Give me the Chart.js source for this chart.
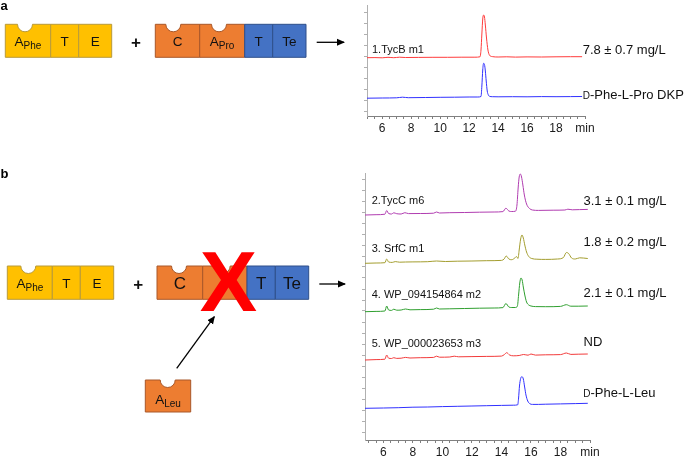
<!DOCTYPE html>
<html><head><meta charset="utf-8">
<script src="https://cdn.jsdelivr.net/npm/chart.js@4.4.1/dist/chart.umd.min.js"></script>
<style>
html,body{margin:0;padding:0;background:#fff;}
body{width:685px;height:458px;position:relative;overflow:hidden;font-family:'Liberation Sans',Arial,Helvetica,sans-serif;}
.box{position:absolute;}
#ov{position:absolute;left:0;top:0;}
</style></head><body>
<div class="box" style="left:340px;top:0;width:345px;height:140px"><canvas id="ca" width="345" height="140"></canvas></div>
<div class="box" style="left:340px;top:160px;width:345px;height:298px"><canvas id="cb" width="345" height="298"></canvas></div>
<svg id="ov" width="685" height="458" xmlns="http://www.w3.org/2000/svg"></svg>
<script>
// ---------- DATA ----------
// x tick values (min) and their labels
const xTickValues = [5,5.5,6,6.5,7,7.5,8,8.5,9,9.5,10,10.5,11,11.5,12,12.5,13,13.5,14,14.5,15,15.5,16,16.5,17,17.5,18,18.5,19,19.5,20];
const xTickLabels = {6:'6',8:'8',10:'10',12:'12',14:'14',16:'16',18:'18',20:'min'};
const yTicksA = [5,16,27,38,49,60,71,82,93,104];
const yTicksB = [8,19,30,41,52,63,74,85,96,107,118,129,140,151,162,173,184,195,206,217,228,239,250,261];

// Panel a traces (retention time in min, detector signal, offset-stacked)
const a1Time = [4.95,5.5,6.0,6.4,6.8,7.2,7.6,8.5,9.5,10.5,11.5,12.4,12.75,12.82,12.88,12.94,13.0,13.06,13.12,13.2,13.3,13.4,13.6,14.0,14.6,15.2,16.0,17.0,18.0,19.0,19.8];
const a1Signal = [58.3,58.4,58.2,58.7,58.3,58.8,58.5,58.6,58.7,58.7,58.8,58.8,59.2,66,82,97,101,99,91,78,66,61,59.4,59.0,59.2,58.9,59.1,59.0,59.2,59.3,59.3];
const aStdTime = [4.95,6.0,7.0,7.4,7.8,9.0,10.0,11.0,12.0,12.6,12.82,12.88,12.94,13.0,13.06,13.12,13.18,13.25,13.33,13.42,13.6,14.0,15.0,16.0,17.0,18.0,19.0,19.8];
const aStdSignal = [17.8,18.0,18.2,18.8,18.3,18.5,18.7,18.8,19.0,19.0,19.5,30,46,52.7,51.5,45,35,25,21,19.6,19.3,19.2,19.3,19.2,19.4,19.3,19.4,19.5];

// Panel b traces
const b2Time = [4.75,5.5,6.1,6.22,6.35,6.55,6.7,6.9,7.2,7.45,7.7,8.5,9.4,9.6,9.8,10.5,11.5,12.5,13.5,14.1,14.3,14.5,14.7,14.95,15.05,15.13,15.2,15.28,15.36,15.45,15.55,15.7,15.9,16.1,16.5,17.5,18.3,18.5,18.8,19.3,19.85];
const b2Signal = [225.0,225.3,225.8,229.5,226.5,226.0,227.2,226.3,226.0,227.3,226.4,226.5,226.8,228.0,227.0,227.3,227.5,227.8,228.0,228.4,231.8,229.0,228.5,228.8,235,252,263,266,263,255,245,236,231.5,230.0,229.6,229.8,230.0,230.8,230.2,230.4,230.6];
const b3Time = [4.75,5.5,6.1,6.22,6.35,6.6,6.8,7.1,7.5,8.0,9.0,9.6,10.2,11.0,12.0,13.0,14.0,14.18,14.32,14.5,14.7,14.9,15.02,15.12,15.2,15.3,15.39,15.48,15.58,15.7,15.85,16.05,16.4,17.0,17.8,18.2,18.4,18.55,18.75,19.0,19.3,19.85];
const b3Signal = [176.7,177.0,177.3,181.0,178.0,177.6,178.4,177.8,178.0,178.1,178.3,179.0,178.5,178.8,179.0,179.3,179.6,181,184,181,180.3,182,183.5,181.5,190,201,205,202,195,188,183.5,181.5,180.8,180.6,181,182.5,187.5,186.5,182,181.0,182.2,181.5];
const b4Time = [4.75,5.5,6.1,6.22,6.35,6.55,6.7,6.9,7.2,7.5,7.8,8.5,9.4,9.6,9.8,10.5,11.5,12.5,13.5,14.1,14.3,14.5,14.7,14.95,15.08,15.16,15.24,15.32,15.4,15.48,15.58,15.7,15.85,16.0,16.3,17.0,18.0,18.4,18.7,19.2,19.85];
const b4Signal = [128.3,128.6,129.0,134.0,130.0,129.6,130.8,129.8,130.0,131.0,130.2,130.4,130.8,132.0,131.0,131.2,131.5,131.8,132.0,132.4,136.5,133.0,132.5,132.5,134,145,157,162,160,153,145,138,135,134,133.4,133.3,133.6,135.3,133.8,133.8,134.0];
const b5Time = [4.75,5.5,6.1,6.22,6.35,6.55,6.7,6.9,7.2,7.5,7.8,8.5,9.4,9.6,9.8,10.5,10.8,11.1,12.0,13.0,14.0,14.2,14.35,14.55,14.8,15.2,15.5,15.8,16.0,16.3,17.0,18.0,18.4,18.7,19.2,19.85];
const b5Signal = [80.0,80.4,80.8,85.0,81.8,81.5,82.3,81.6,81.8,82.6,82.0,82.3,82.6,83.8,82.8,83.0,83.8,83.2,83.4,83.6,83.9,85.5,87.3,85.0,84.2,84.5,85.5,84.8,86.0,84.9,85.2,85.4,87.0,85.6,85.8,86.0];
const bStdTime = [4.75,6.0,7.0,8.0,9.0,10.0,11.0,12.0,13.0,14.0,14.8,15.1,15.16,15.22,15.3,15.39,15.48,15.57,15.66,15.78,15.92,16.1,16.5,17.0,18.0,19.0,19.85];
const bStdSignal = [31.7,32.0,32.3,32.8,33.0,33.4,33.7,34.0,34.3,34.6,34.8,35.2,42,54,61.5,63.3,61,53,45,39,36.3,35.6,35.6,35.8,36.1,36.4,36.7];

const traceLabelsA = ['1.TycB m1'];
const yieldsA = ['7.8 ± 0.7 mg/L'];
const traceLabelsB = ['2.TycC m6','3. SrfC m1','4. WP_094154864 m2','5. WP_000023653 m3'];
const yieldsB = ['3.1 ± 0.1 mg/L','1.8 ± 0.2 mg/L','2.1 ± 0.1 mg/L','ND'];

// ---------- CHARTS ----------
const FONT = "'Liberation Sans', Arial, Helvetica, sans-serif";
Chart.defaults.font.family = FONT;

function ds(t, v, c){
  return {data: t.map((x,i)=>({x:x, y:v[i]})), borderColor:c, borderWidth:1, pointRadius:0, fill:false, cubicInterpolationMode:'monotone'};
}
function makeChart(id, sets, xmin, ymax, yTicks, pad, xH){
  return new Chart(document.getElementById(id), {
    type:'line',
    data:{datasets:sets},
    options:{
      responsive:false, animation:false, events:[],
      layout:{padding:pad},
      plugins:{legend:{display:false}, tooltip:{enabled:false}},
      scales:{
        x:{type:'linear', min:xmin, max:20,
          afterBuildTicks:s=>{s.ticks = xTickValues.map(v=>({value:v}));},
          afterFit:s=>{s.height = xH;},
          ticks:{autoSkip:false, maxRotation:0, minRotation:0, padding:2, color:'#1a1a1a', font:{size:12, family:FONT},
            callback:(v)=> (xTickLabels[v] !== undefined ? xTickLabels[v] : '')},
          grid:{drawOnChartArea:false, tickLength:3, color:'#808080'},
          border:{color:'#808080', width:1}},
        y:{type:'linear', min:0, max:ymax,
          afterBuildTicks:s=>{s.ticks = yTicks.map(v=>({value:v}));},
          afterFit:s=>{s.width = 4;},
          ticks:{display:false},
          grid:{drawOnChartArea:false, tickLength:3, color:'#b0b0b0'},
          border:{color:'#b0b0b0', width:1}}
      }
    }
  });
}
makeChart('ca', [ds(a1Time,a1Signal,'#ff3b3b'), ds(aStdTime,aStdSignal,'#3030ff')], 4.95, 111, yTicksA, {left:23, top:5, right:100, bottom:0}, 24);
makeChart('cb', [ds(b2Time,b2Signal,'#b03cb0'), ds(b3Time,b3Signal,'#a39d2e'), ds(b4Time,b4Signal,'#2f9f2f'), ds(b5Time,b5Signal,'#f23a3a'), ds(bStdTime,bStdSignal,'#3030ff')], 4.75, 267, yTicksB, {left:21, top:13, right:95, bottom:0}, 18);

// ---------- SCHEMATIC & LABELS (SVG overlay) ----------
const YEL='#FFC000', YELS='#B89A3A', ORA='#ED7D31', ORAS='#A9582A', BLU='#4472C4', BLUS='#2F4F8A';
function seg(x0,x1,y0,y1,fill,stroke,notch){
  let d;
  if(notch!=null){const r=7.5; d=`M${x0},${y0} L${notch-r},${y0} A${r},${r} 0 0 0 ${notch+r},${y0} L${x1},${y0} L${x1},${y1} L${x0},${y1} Z`;}
  else d=`M${x0},${y0} L${x1},${y0} L${x1},${y1} L${x0},${y1} Z`;
  return `<path d="${d}" fill="${fill}" stroke="${stroke}" stroke-width="1"/>`;
}
function txt(x,y,s,size,anchor,extra){
  return `<text x="${x}" y="${y}" font-size="${size}" text-anchor="${anchor||'start'}" fill="#111" ${extra||''}>${s}</text>`;
}
function sub(x,y,main,subs){
  return `<text x="${x}" y="${y}" font-size="13.5" text-anchor="middle" fill="#111">${main}<tspan font-size="10" dy="3">${subs}</tspan></text>`;
}
let g = `<defs><marker id="ah" markerWidth="8" markerHeight="8" refX="7" refY="4" orient="auto" markerUnits="userSpaceOnUse"><path d="M0,0.5 L8,4 L0,7.5 Z" fill="#000"/></marker></defs>`;
// panel letters
g += `<text x="0.5" y="10" font-size="13" font-weight="bold" fill="#000">a</text>`;
g += `<text x="0.5" y="177.5" font-size="13" font-weight="bold" fill="#000">b</text>`;
// panel a schematic
let t0=24.3, t1=57.3;
g += seg(5.3,50.7,t0,t1,YEL,YELS,25) + seg(50.7,78.7,t0,t1,YEL,YELS) + seg(78.7,111.7,t0,t1,YEL,YELS);
g += sub(28,46,'A','Phe') + txt(64.7,46,'T',13.5,'middle') + txt(95.2,46,'E',13.5,'middle');
g += txt(136,47.5,'+',17,'middle','font-weight="bold"');
g += seg(155.3,199.7,t0,t1,ORA,ORAS,173.3) + seg(199.7,244.7,t0,t1,ORA,ORAS,219) + seg(244.7,272.7,t0,t1,BLU,BLUS) + seg(272.7,306,t0,t1,BLU,BLUS);
g += txt(177.5,46,'C',13.5,'middle') + sub(222,46,'A','Pro') + txt(258.7,46,'T',13.5,'middle') + txt(289.3,46,'Te',13.5,'middle');
g += `<line x1="316.7" y1="42.3" x2="344" y2="42.3" stroke="#000" stroke-width="1.3" marker-end="url(#ah)"/>`;
// panel b schematic
t0=266; t1=299.3;
g += seg(7.3,52.3,t0,t1,YEL,YELS,28.3) + seg(52.3,80.3,t0,t1,YEL,YELS) + seg(80.3,113.7,t0,t1,YEL,YELS);
g += sub(30,287.5,'A','Phe') + txt(66.3,287.5,'T',13.5,'middle') + txt(97,287.5,'E',13.5,'middle');
g += txt(138.3,289.5,'+',17,'middle','font-weight="bold"');
g += seg(157,202.7,t0,t1,ORA,ORAS,179) + seg(202.7,247,t0,t1,ORA,ORAS,222.7) + seg(247,275.3,t0,t1,BLU,BLUS) + seg(275.3,308.7,t0,t1,BLU,BLUS);
g += txt(180,289,'C',17,'middle') + txt(261.2,289,'T',17,'middle') + txt(292,289,'Te',17,'middle');
g += `<text x="228.5" y="310.7" font-size="86" font-weight="bold" text-anchor="middle" fill="#ff0000">X</text>`;
g += `<line x1="176.7" y1="368.3" x2="214.3" y2="316.7" stroke="#000" stroke-width="1.3" marker-end="url(#ah)"/>`;
g += seg(145.3,190.7,380,412,ORA,ORAS,167.7);
g += sub(168,404,'A','Leu');
g += `<line x1="319.3" y1="284" x2="345" y2="284" stroke="#000" stroke-width="1.3" marker-end="url(#ah)"/>`;
// chromatogram labels panel a
g += txt(372,53,traceLabelsA[0],11) + txt(582.7,53.5,yieldsA[0],13);
g += `<text x="582.7" y="99" font-size="13" fill="#111"><tspan font-size="10">D</tspan>-Phe-L-Pro DKP</text>`;
// panel b
const lblY=[203.5,251.7,297.7,346.7], yldY=[204.5,246,296.7,346];
for(let i=0;i<4;i++){ g += txt(371.7,lblY[i],traceLabelsB[i],11) + txt(583.5,yldY[i],yieldsB[i],13); }
g += `<text x="583.3" y="396.7" font-size="13" fill="#111"><tspan font-size="10">D</tspan>-Phe-L-Leu</text>`;
const ov=document.getElementById('ov');
ov.setAttribute('font-family', FONT);
ov.innerHTML = g;
</script>
</body></html>
